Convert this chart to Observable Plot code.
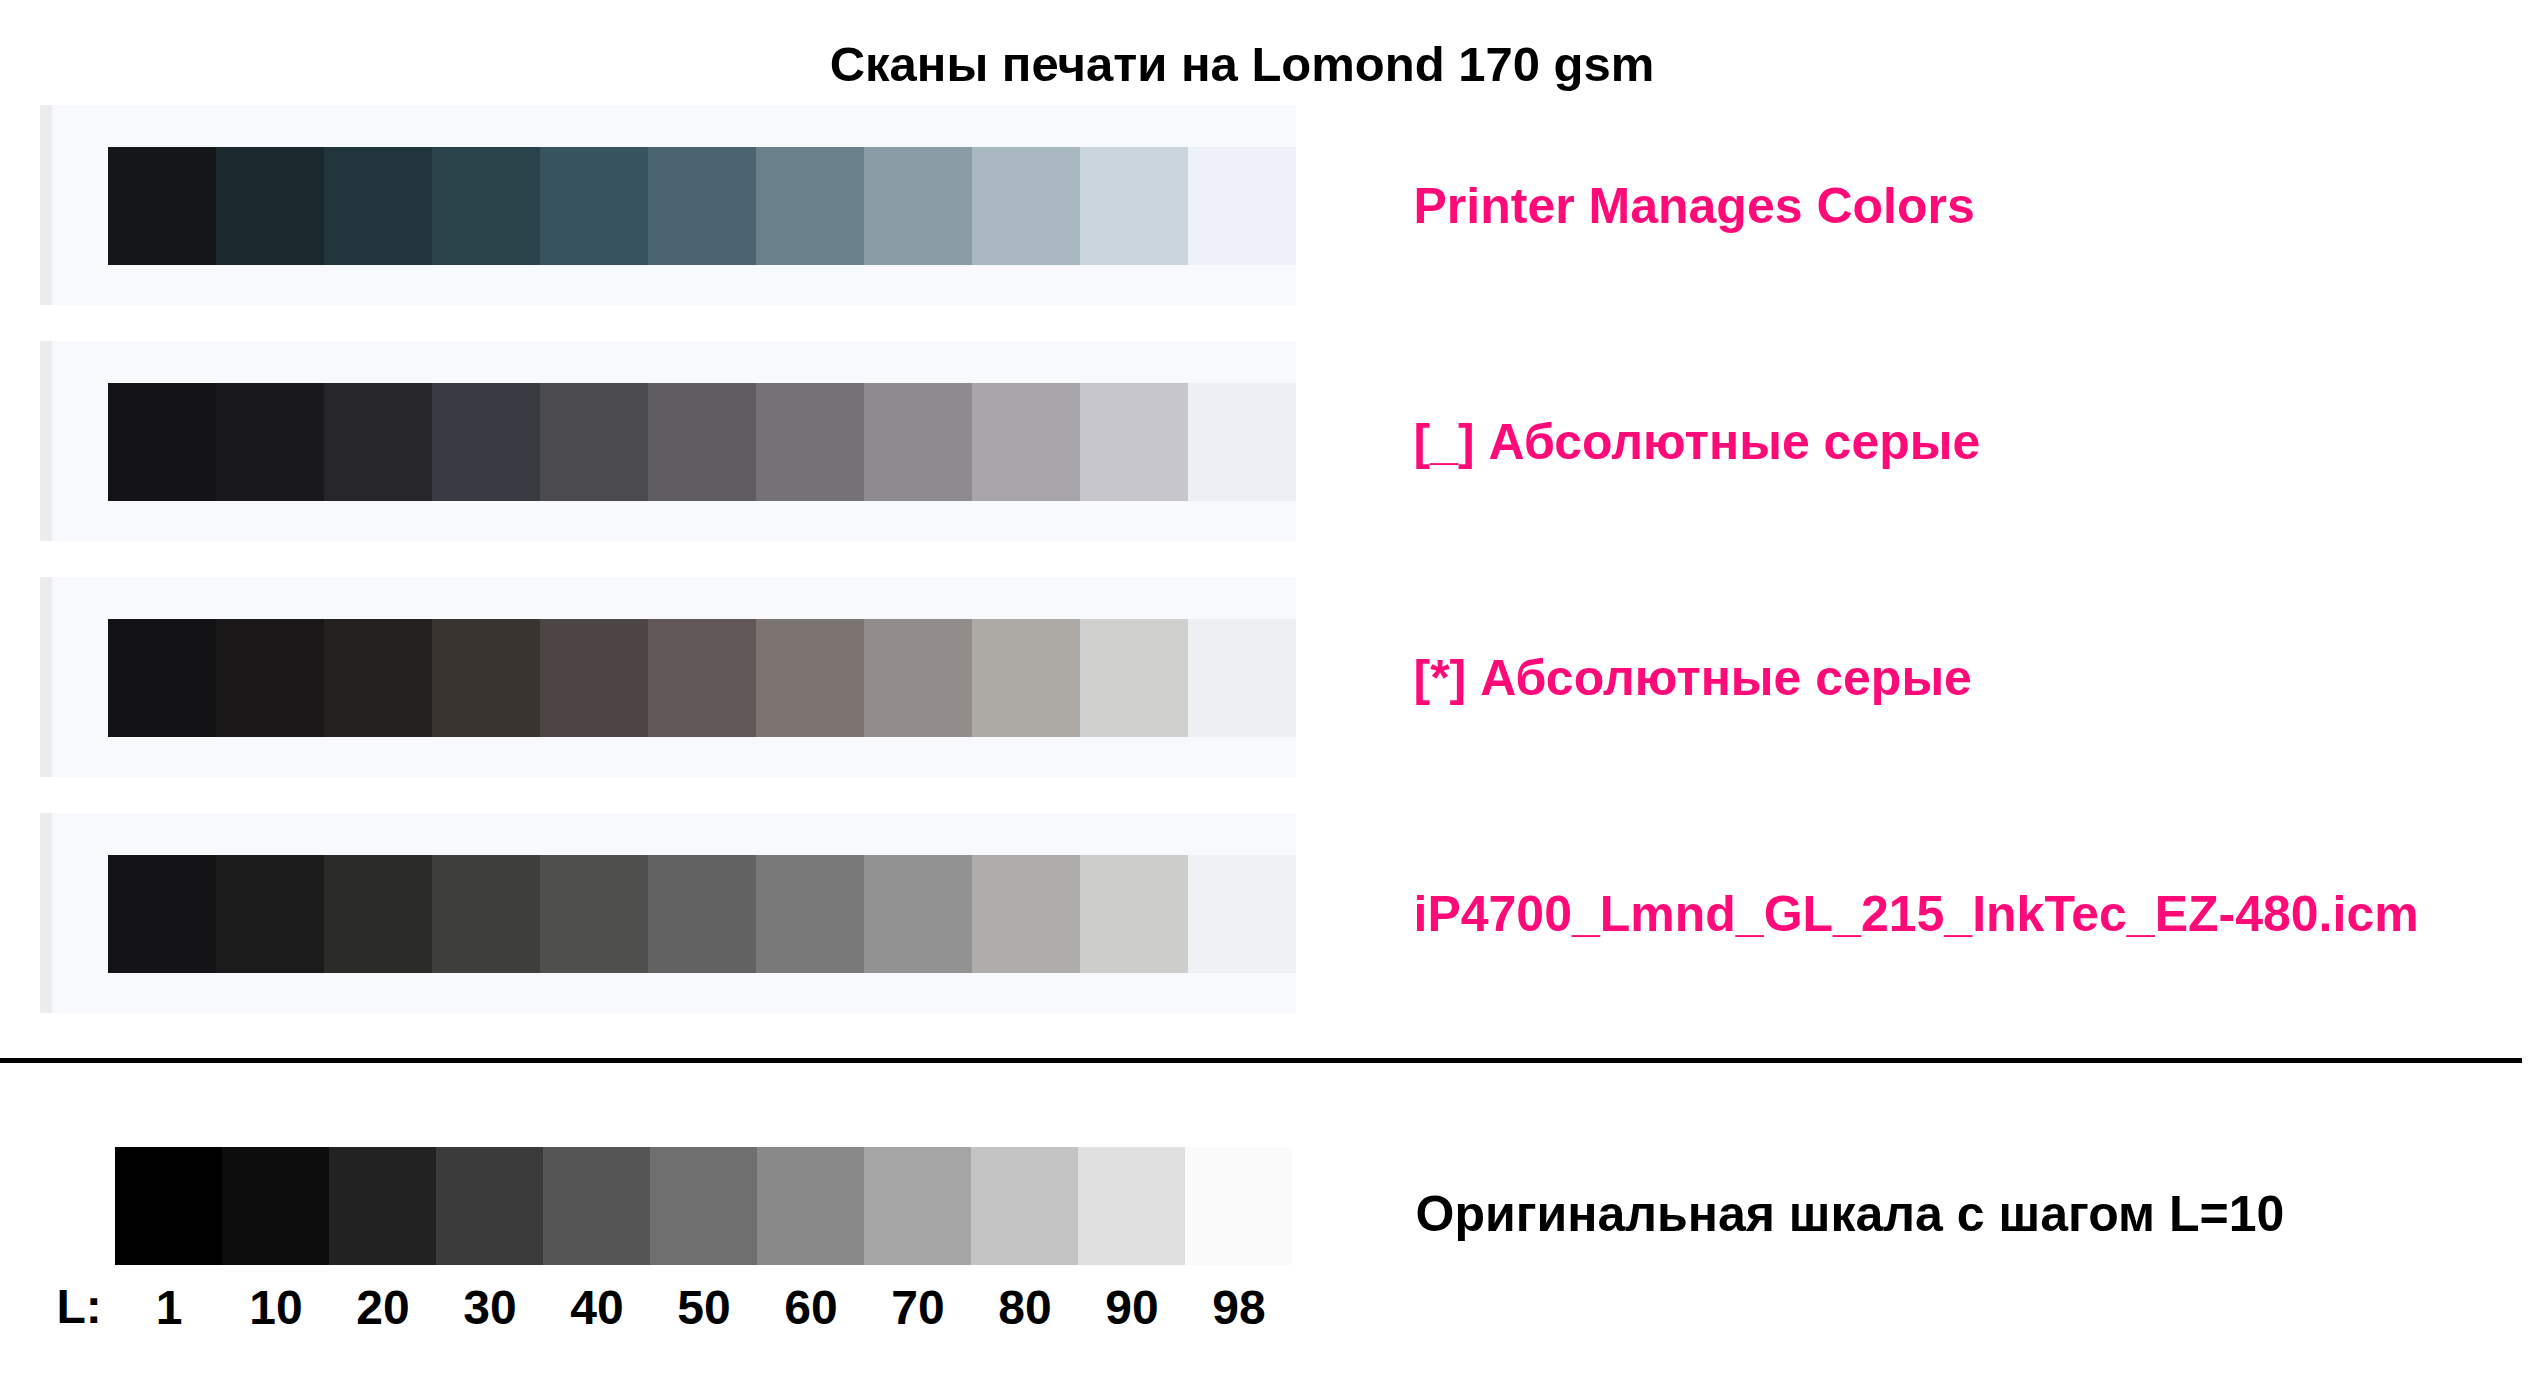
<!DOCTYPE html>
<html>
<head>
<meta charset="utf-8">
<script src="https://cdn.jsdelivr.net/npm/d3@7"></script>
<script src="https://cdn.jsdelivr.net/npm/@observablehq/plot@0.6"></script>
<style>
  html, body { margin: 0; padding: 0; background: #ffffff; }
  #wrap { position: relative; width: 2530px; height: 1386px; background: #ffffff; overflow: hidden; }
  #title { position: absolute; left: 0; top: 37px; width: 2484px; text-align: center;
           font-family: "Liberation Sans", Arial, sans-serif; font-weight: bold; font-size: 49px;
           line-height: 54px; color: #000; }
  #scans { position: absolute; left: 0; top: 0; }
  #orig { position: absolute; left: 0; top: 1040px; }
  #rule { position: absolute; left: 0; top: 1058px; width: 2522px; height: 5px; background: #000; }
</style>
</head>
<body>
<div id="wrap">
  <div id="scans"></div>
  <div id="orig"></div>
  <div id="rule"></div>
  <div id="title"></div>
</div>
<script>
const titleText = "Сканы печати на Lomond 170 gsm";

// L steps (tick labels)
const steps = ["1", "10", "20", "30", "40", "50", "60", "70", "80", "90", "98"];

// Scanned rows (profile names)
const rows = [
  "Printer Manages Colors",
  "[_] Абсолютные серые",
  "[*] Абсолютные серые",
  "iP4700_Lmnd_GL_215_InkTec_EZ-480.icm"
];

// Scanned patch colours
const printerManages = ["#141618", "#1c2a30", "#21353c", "#2a434b", "#37535d", "#4b6570", "#6a808b", "#8a9ca6", "#a9b7c1", "#cbd5de", "#eff1f8"];
const absGrayOff     = ["#141417", "#19191c", "#27272b", "#3a3a42", "#4b4b4f", "#5e5c60", "#757276", "#8e8b90", "#a8a6ab", "#c6c6cc", "#eeeff5"];
const absGrayOn      = ["#131316", "#1a1719", "#252020", "#393430", "#4d4544", "#605756", "#7a7370", "#928d8a", "#adaaa6", "#cfcfcd", "#eeeff3"];
const ip4700         = ["#141416", "#1b1b1b", "#2b2b29", "#3e3e3c", "#4f4f4d", "#636262", "#7a7979", "#939292", "#aeadab", "#cdcecb", "#eef0f4"];

// Original scale
const originalLabel = "Оригинальная шкала с шагом L=10";
const originalScale = ["#000000", "#0d0d0d", "#222222", "#3b3b3b", "#555555", "#6f6f6f", "#898989", "#a5a5a5", "#c3c3c3", "#e0e0e0", "#fafafa"];

const paperColor = "#f8f9fd";
const edgeColor = "#ececef";
const labelColor = "#ff0a78";

const rowColors = [printerManages, absGrayOff, absGrayOn, ip4700];
const scanData = rows.flatMap((row, i) => steps.map((L, j) => ({row, L, color: rowColors[i][j]})));
const origData = steps.map((L, j) => ({row: originalLabel, L, color: originalScale[j]}));

document.getElementById("title").textContent = titleText;

const font = "'Liberation Sans', Arial, sans-serif";

const scans = Plot.plot({
  width: 2530,
  height: 1040,
  marginLeft: 107,
  marginRight: 1234,
  marginTop: 88,
  marginBottom: 8,
  style: {fontFamily: font, fontWeight: "bold", background: "transparent"},
  x: {type: "band", domain: steps, padding: 0, axis: null},
  y: {type: "band", domain: rows, paddingInner: 0.5, paddingOuter: 0.25, axis: null},
  color: {type: "identity"},
  marks: [
    Plot.cell(rows, {y: d => d, fill: paperColor, insetLeft: -67, insetTop: -42, insetBottom: -40}),
    Plot.cell(rows, {y: d => d, fill: edgeColor, insetLeft: -67, insetRight: 1244, insetTop: -42, insetBottom: -40}),
    Plot.cell(scanData, {x: "L", y: "row", fill: "color"}),
    Plot.text(rows, {y: d => d, text: d => d, frameAnchor: "right", dx: 117, textAnchor: "start",
                     fill: labelColor, fontSize: 50, fontWeight: "bold"})
  ]
});
document.getElementById("scans").append(scans);

const orig = Plot.plot({
  width: 2530,
  height: 346,
  marginLeft: 112,
  marginRight: 1236,
  marginTop: 107,
  marginBottom: 121,
  style: {fontFamily: font, fontWeight: "bold", background: "transparent", color: "#000"},
  x: {type: "band", domain: steps, padding: 0},
  y: {type: "band", domain: [originalLabel], padding: 0, axis: null},
  color: {type: "identity"},
  marks: [
    Plot.cell(origData, {x: "L", y: "row", fill: "color"}),
    Plot.axisX({tickSize: 0, tickPadding: 24, fontSize: 48, fontWeight: "bold", label: null}),
    Plot.text(["L:"], {text: d => d, frameAnchor: "bottom-left", dx: -56, dy: 42, textAnchor: "start",
                       lineAnchor: "middle", fontSize: 48, fontWeight: "bold", fill: "#000"}),
    Plot.text([originalLabel], {y: d => d, text: d => d, frameAnchor: "right", dx: 121, dy: 8, textAnchor: "start",
                                fill: "#000", fontSize: 50, fontWeight: "bold"})
  ]
});
document.getElementById("orig").append(orig);
</script>
</body>
</html>
